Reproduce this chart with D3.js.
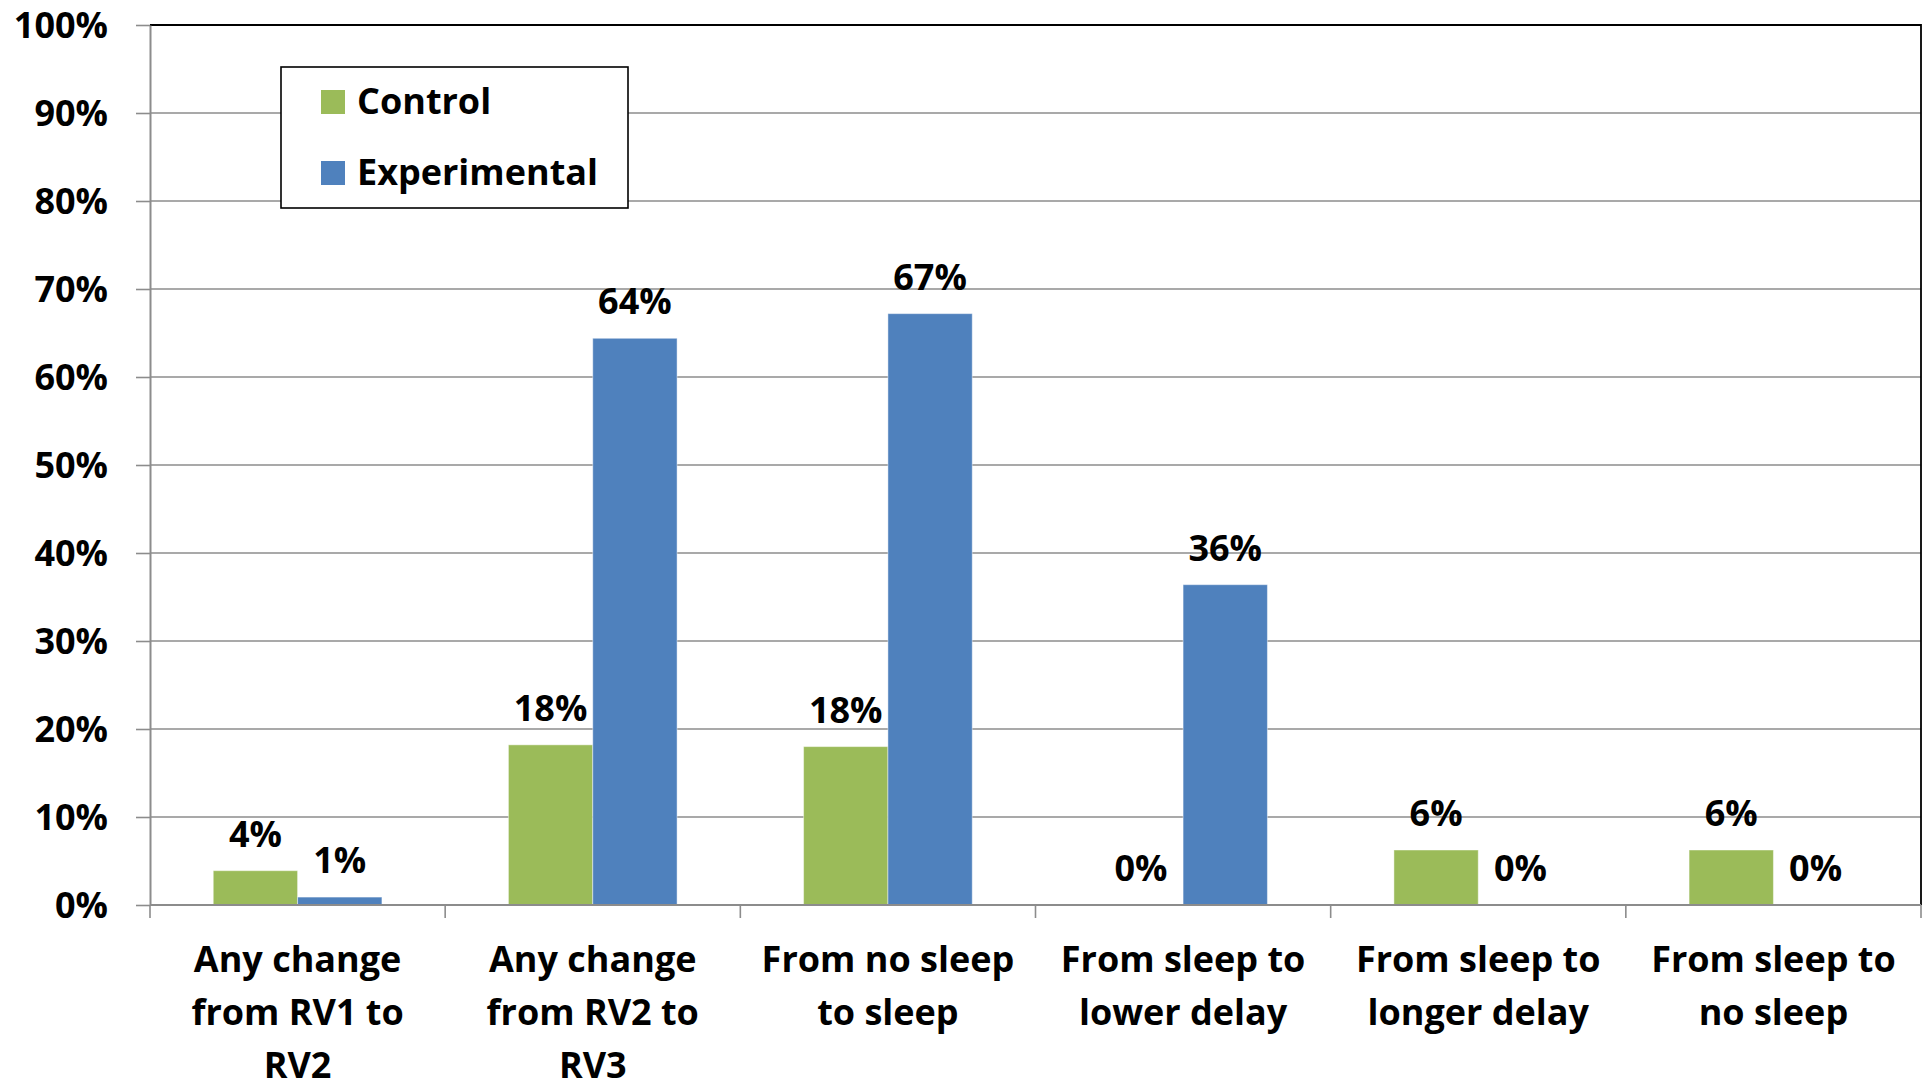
<!DOCTYPE html>
<html>
<head>
<meta charset="utf-8">
<script src="https://cdn.jsdelivr.net/npm/d3@7"></script>
<style>
  html, body { margin: 0; padding: 0; background: #ffffff; }
  svg { display: block; }
  text { font-family: "Open Sans", Lato, "DejaVu Sans", sans-serif; font-weight: 700; fill: #000; }
</style>
</head>
<body>
<svg id="chart" width="1925" height="1083"></svg>
<script>
// Share of participants whose response changed, by type of change
const categories = [
  ["Any change", "from RV1 to", "RV2"],
  ["Any change", "from RV2 to", "RV3"],
  ["From no sleep", "to sleep"],
  ["From sleep to", "lower delay"],
  ["From sleep to", "longer delay"],
  ["From sleep to", "no sleep"]
];
const seriesNames = ["Control", "Experimental"];
const controlValues = [0.039, 0.182, 0.180, 0.0, 0.0625, 0.0625];
const experimentalValues = [0.009, 0.644, 0.672, 0.364, 0.0, 0.0];
const yTicks = [0, 0.1, 0.2, 0.3, 0.4, 0.5, 0.6, 0.7, 0.8, 0.9, 1.0];

const colors = { Control: "#9bbb59", Experimental: "#4f81bd" };

const svg = d3.select("#chart");
const W = 1925, H = 1083;
const plot = { left: 150, right: 1921, top: 25, bottom: 905 };
const fontSize = 36;

svg.append("rect").attr("width", W).attr("height", H).attr("fill", "#fff");

const catKeys = categories.map((c, i) => i);
const x0 = d3.scaleBand().domain(catKeys).range([plot.left, plot.right]).padding(0);
const x1 = d3.scaleBand().domain(seriesNames).range([0, x0.bandwidth()])
  .paddingInner(0).paddingOuter(0.75);
const y = d3.scaleLinear().domain([0, 1]).range([plot.bottom, plot.top]);

const rows = catKeys.map(i => ({
  i,
  values: [
    { key: "Control", value: controlValues[i] },
    { key: "Experimental", value: experimentalValues[i] }
  ]
}));

// horizontal gridlines
svg.append("g").selectAll("line").data(yTicks.filter(t => t > 0 && t < 1)).join("line")
  .attr("x1", plot.left).attr("x2", plot.right)
  .attr("y1", d => y(d)).attr("y2", d => y(d))
  .attr("stroke", "#8c8c8c").attr("stroke-width", 1.6);

// plot border (top and right)
svg.append("path")
  .attr("d", `M${plot.left},${y(1)}H${plot.right}V${plot.bottom}`)
  .attr("fill", "none").attr("stroke", "#000").attr("stroke-width", 1.8);

// bars
const groups = svg.append("g").selectAll("g").data(rows).join("g")
  .attr("transform", d => `translate(${x0(d.i)},0)`);

groups.selectAll("rect").data(d => d.values).join("rect")
  .attr("x", d => x1(d.key))
  .attr("width", x1.bandwidth())
  .attr("y", d => y(d.value))
  .attr("height", d => y(0) - y(d.value))
  .attr("fill", d => colors[d.key])
  .attr("stroke", "rgba(255,255,255,0.45)")
  .attr("stroke-width", 1);

// value labels
const pct = d3.format(".0%");
groups.selectAll("text.val").data(d => d.values).join("text")
  .attr("class", "val")
  .attr("x", d => x1(d.key) + x1.bandwidth() / 2)
  .attr("y", d => y(d.value) - 24)
  .attr("text-anchor", "middle")
  .attr("font-size", fontSize)
  .text(d => pct(d.value));

// y axis
const yAxis = d3.axisLeft(y).tickValues(yTicks).tickFormat(pct)
  .tickSize(14).tickSizeOuter(0).tickPadding(28);
const gy = svg.append("g").attr("transform", `translate(${plot.left},0)`).call(yAxis);
gy.select(".domain").attr("stroke", "#8c8c8c").attr("stroke-width", 2);
gy.selectAll(".tick line").attr("stroke", "#8c8c8c").attr("stroke-width", 1.6);
gy.selectAll(".tick text")
  .attr("font-size", fontSize).attr("font-family", null).attr("font-weight", 700)
  .attr("fill", "#000").attr("dy", "0.35em");

// x axis baseline and category boundary ticks
const gx = svg.append("g");
gx.append("line").attr("x1", plot.left).attr("x2", plot.right)
  .attr("y1", y(0)).attr("y2", y(0))
  .attr("stroke", "#8c8c8c").attr("stroke-width", 2);
const bounds = catKeys.map(i => x0(i)).concat([x0(catKeys[catKeys.length - 1]) + x0.bandwidth()]);
gx.selectAll("line.tick").data(bounds).join("line")
  .attr("class", "tick")
  .attr("x1", d => d).attr("x2", d => d)
  .attr("y1", y(0)).attr("y2", y(0) + 13)
  .attr("stroke", "#8c8c8c").attr("stroke-width", 1.6);

// category labels
const catLabels = gx.selectAll("text.cat").data(rows).join("text")
  .attr("class", "cat")
  .attr("text-anchor", "middle")
  .attr("font-size", fontSize)
  .attr("transform", d => `translate(${x0(d.i) + x0.bandwidth() / 2},972)`);
catLabels.selectAll("tspan").data(d => categories[d.i]).join("tspan")
  .attr("x", 0).attr("y", (d, k) => k * 53)
  .text(d => d);

// legend
const legend = svg.append("g");
legend.append("rect")
  .attr("x", 281).attr("y", 67).attr("width", 347).attr("height", 141)
  .attr("fill", "#fff").attr("stroke", "#000").attr("stroke-width", 1.6);
const items = legend.selectAll("g.item").data(seriesNames).join("g")
  .attr("class", "item")
  .attr("transform", (d, k) => `translate(321,${90 + k * 71})`);
items.append("rect").attr("width", 24).attr("height", 24).attr("fill", d => colors[d]);
items.append("text").attr("x", 36).attr("y", 24).attr("font-size", fontSize).text(d => d);
</script>
</body>
</html>
